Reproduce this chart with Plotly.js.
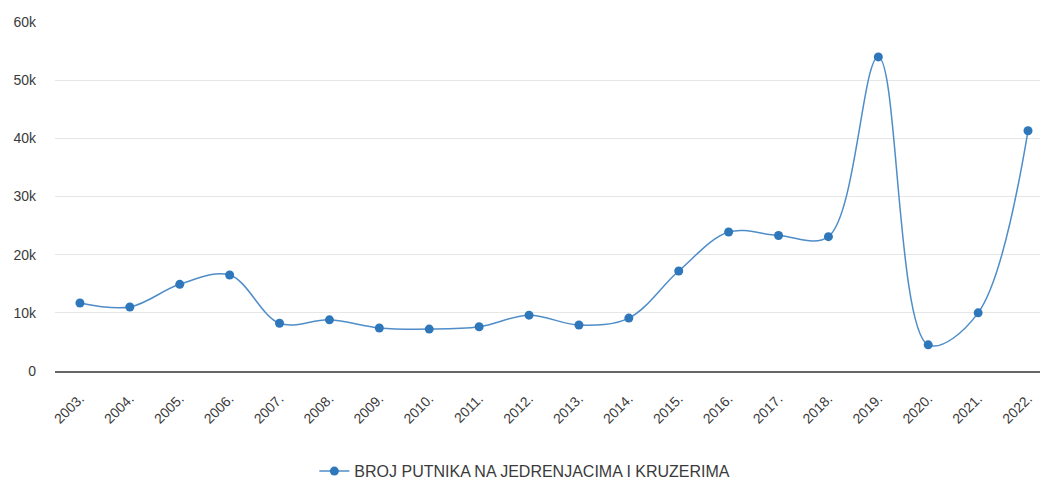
<!DOCTYPE html>
<html><head><meta charset="utf-8">
<script src="https://cdn.plot.ly/plotly-3.0.1.min.js"></script>
<style>html,body{margin:0;padding:0;background:#fff}</style>
</head><body>
<div id="chart" style="width:1040px;height:479px"></div>
<script>
const years = ["2003.","2004.","2005.","2006.","2007.","2008.","2009.","2010.","2011.","2012.","2013.","2014.","2015.","2016.","2017.","2018.","2019.","2020.","2021.","2022."];
const passengers = [11700,11000,14900,16500,8200,8800,7400,7200,7600,9600,7900,9100,17200,23900,23300,23100,54000,4500,10000,41300];
const seriesName = "BROJ PUTNIKA NA JEDRENJACIMA I KRUZERIMA";

const trace = {
  x: years, y: passengers, name: seriesName, type: "scatter", mode: "lines+markers",
  line: {shape: "spline", smoothing: 1, color: "#4f8dc9", width: 1.5},
  marker: {color: "#2f77bb", size: 9}
};
const layout = {
  width: 1040, height: 479,
  margin: {l: 55, r: 0, t: 22, b: 108, autoexpand: false},
  paper_bgcolor: "#fff", plot_bgcolor: "#fff",
  font: {family: "'Liberation Sans', Arial, sans-serif", size: 14, color: "#3a3a3a"},
  xaxis: {type: "category", range: [-0.5, 19.24], tickangle: -45, showgrid: false, automargin: false,
          showline: true, linecolor: "#666", linewidth: 2, ticks: "", zeroline: false,
          ticklabelstandoff: 12, tickfont: {size: 14, color: "#3a3a3a"}},
  yaxis: {range: [0, 60000], automargin: false, tickvals: [0,10000,20000,30000,40000,50000,60000],
          ticktext: ["0","10k","20k","30k","40k","50k","60k"],
          gridcolor: "#e6e6e6", gridwidth: 1, zeroline: false, showline: false,
          ticks: "", ticklabelstandoff: 18, tickfont: {size: 14, color: "#3a3a3a"}},
  showlegend: true,
  legend: {orientation: "h", x: 0.477, xanchor: "center", y: -0.287, yanchor: "middle",
           font: {size: 16, color: "#3a3a3a"}}
};
Plotly.newPlot("chart", [trace], layout, {displayModeBar: false, staticPlot: true});
</script>
</body></html>
